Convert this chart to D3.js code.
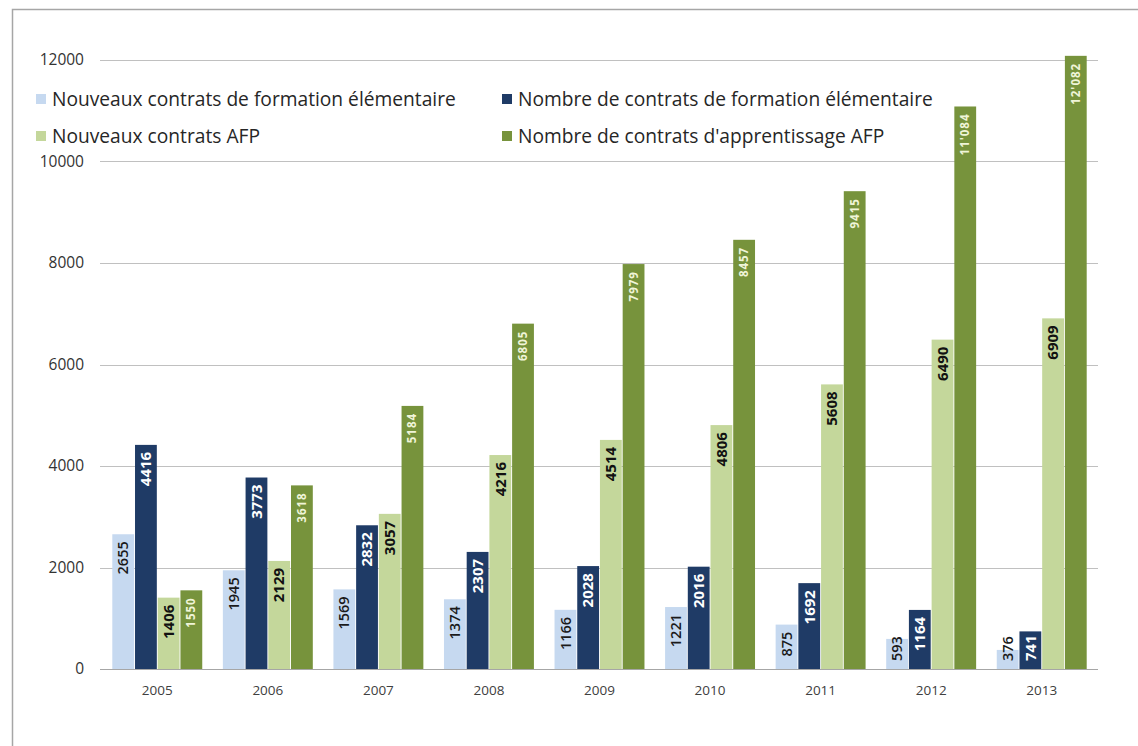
<!DOCTYPE html>
<html>
<head>
<meta charset="utf-8">
<script src="https://cdn.jsdelivr.net/npm/d3@7"></script>
<style>
  body { margin: 0; background: #fff; }
  svg { display: block; }
</style>
</head>
<body>
<script>
// Chart data: apprenticeship contracts per year
var years = ["2005", "2006", "2007", "2008", "2009", "2010", "2011", "2012", "2013"];
var seriesNames = [
  "Nouveaux contrats de formation élémentaire",
  "Nombre de contrats de formation élémentaire",
  "Nouveaux contrats AFP",
  "Nombre de contrats d'apprentissage AFP"
];
var newElem = [2655, 1945, 1569, 1374, 1166, 1221, 875, 593, 376];
var totalElem = [4416, 3773, 2832, 2307, 2028, 2016, 1692, 1164, 741];
var newAfp = [1406, 2129, 3057, 4216, 4514, 4806, 5608, 6490, 6909];
var totalAfp = [1550, 3618, 5184, 6805, 7979, 8457, 9415, 11084, 12082];
var yTicks = [0, 2000, 4000, 6000, 8000, 10000, 12000];

var seriesValues = [newElem, totalElem, newAfp, totalAfp];
var barColors = ["#c6d9f0", "#1f3b66", "#c4d79b", "#77933c"];
var labelColors = ["#1a1a1a", "#ffffff", "#111111", "#f0f5d8"];
var labelSizes = ["14.5px", "15px", "15px", "11.5px"];
var labelWeights = ["600", "bold", "bold", "bold"];
var labelSpacing = ["0px", "0px", "0px", "1px"];

var width = 1138, height = 746;

var svg = d3.select("body").append("svg")
  .attr("width", width)
  .attr("height", height)
  .style("font-family", "'Open Sans', sans-serif");

// outer frame
svg.append("rect")
  .attr("x", 12.5).attr("y", 9.5)
  .attr("width", 1140).attr("height", 760)
  .attr("fill", "none")
  .attr("stroke", "#a6a6a6")
  .attr("stroke-width", 1.5);

var x = d3.scaleBand().domain(years).range([102, 1097])
  .paddingInner(0.17).paddingOuter(0.085);
var xs = d3.scaleBand().domain(d3.range(4)).range([0, x.bandwidth()]).padding(0.04);
var y = d3.scaleLinear().domain([0, 12000]).range([669, 60]);

// gridlines
svg.append("g").selectAll("line")
  .data(yTicks)
  .enter().append("line")
  .attr("x1", 100).attr("x2", 1098)
  .attr("y1", function(d) { return Math.round(y(d)) + 0.5; })
  .attr("y2", function(d) { return Math.round(y(d)) + 0.5; })
  .attr("stroke", function(d) { return d === 0 ? "#a6a6a6" : "#c0c0c0"; })
  .attr("stroke-width", 1);

// y tick labels
svg.append("g").selectAll("text")
  .data(yTicks)
  .enter().append("text")
  .attr("x", 84)
  .attr("y", function(d) { return y(d); })
  .attr("dy", "0.35em")
  .attr("text-anchor", "end")
  .attr("font-size", "15.5px")
  .attr("fill", "#333")
  .text(function(d) { return d; });

// x tick labels
svg.append("g").selectAll("text")
  .data(years)
  .enter().append("text")
  .attr("x", function(d) { return x(d) + x.bandwidth() / 2; })
  .attr("y", 690)
  .attr("dy", "0.35em")
  .attr("text-anchor", "middle")
  .attr("font-size", "13.5px")
  .attr("fill", "#404040")
  .text(function(d) { return d; });

// bars
var groups = svg.append("g").selectAll("g")
  .data(years)
  .enter().append("g")
  .attr("transform", function(d) { return "translate(" + x(d) + ",0)"; });

function fmt(v) {
  if (v >= 10000) return Math.floor(v / 1000) + "'" + String(v % 1000).padStart(3, "0");
  return String(v);
}

var cells = groups.selectAll("g.cell")
  .data(function(d, i) { return seriesValues.map(function(s, k) { return { k: k, v: s[i] }; }); })
  .enter().append("g").attr("class", "cell");

cells.append("rect")
  .attr("x", function(d) { return xs(d.k); })
  .attr("y", function(d) { return y(d.v); })
  .attr("width", xs.bandwidth())
  .attr("height", function(d) { return y(0) - y(d.v); })
  .attr("fill", function(d) { return barColors[d.k]; });

// rotated value labels, inside end of each bar
cells.append("text")
  .attr("text-anchor", "end")
  .attr("dy", "0.35em")
  .attr("font-size", function(d) { return labelSizes[d.k]; })
  .attr("font-weight", function(d) { return labelWeights[d.k]; })
  .attr("letter-spacing", function(d) { return labelSpacing[d.k]; })
  .attr("fill", function(d) { return labelColors[d.k]; })
  .text(function(d) { return fmt(d.v); })
  .attr("transform", function(d) {
    var len = this.getComputedTextLength();
    var cx = xs(d.k) + xs.bandwidth() / 2;
    var ay = Math.min(y(d.v) + 7, y(0) - 8 - len);
    return "translate(" + cx + "," + ay + ") rotate(-90)";
  });

// legend (2 x 2)
var legendPos = [[36, 99], [502, 99], [36, 136], [502, 136]];
var legend = svg.append("g").selectAll("g")
  .data(seriesNames)
  .enter().append("g")
  .attr("transform", function(d, i) { return "translate(" + legendPos[i][0] + "," + legendPos[i][1] + ")"; });

legend.append("rect")
  .attr("x", 0).attr("y", -5)
  .attr("width", 10).attr("height", 10)
  .attr("fill", function(d, i) { return barColors[i]; });

legend.append("text")
  .attr("x", 16)
  .attr("dy", "0.35em")
  .attr("font-size", "19.2px")
  .attr("fill", "#262626")
  .text(function(d) { return d; });
</script>
</body>
</html>
